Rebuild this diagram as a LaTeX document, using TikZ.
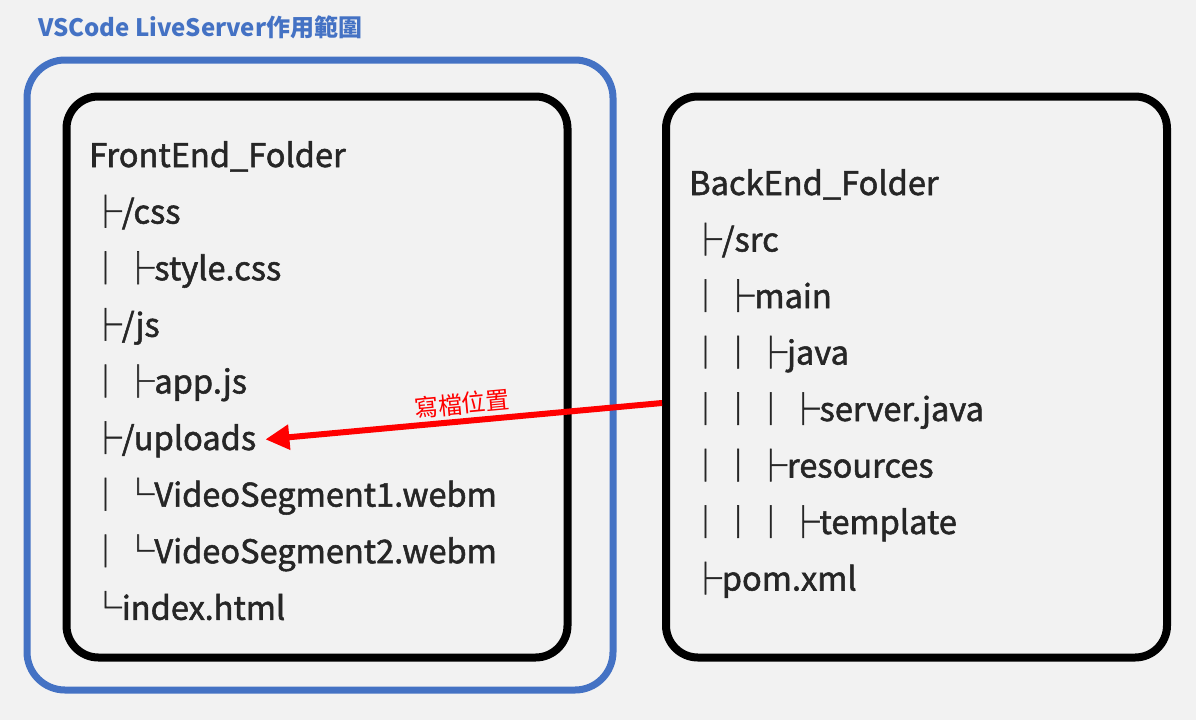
\documentclass[tikz,border=0pt]{standalone}
\usepackage{fontspec}
\setmainfont{Noto Sans CJK TC}
\newfontfamily\treefont{Noto Sans CJK TC}[FakeBold=1.6]
\usetikzlibrary{arrows.meta}
\definecolor{bgc}{HTML}{F2F2F2}
\definecolor{scopeblue}{HTML}{4472C4}
\definecolor{txtc}{HTML}{262626}
\begin{document}
\begin{tikzpicture}[x=1pt,y=-1pt,
  scopebox/.style={draw=scopeblue,line width=7pt,rounded corners=38pt,minimum width=586pt,minimum height=630pt},
  folderbox/.style={draw=black,line width=8pt,rounded corners=32pt,minimum width=501pt,minimum height=561pt},
  treeline/.style={anchor=base west,inner sep=0pt,text=txtc,font=\treefont\fontsize{32.6}{38}\selectfont},
  writearrow/.style={draw=red,line width=6pt,-{Triangle[length=24pt,width=24pt]}}]
\fill[bgc] (0,0) rectangle (1196,720);
\useasboundingbox (0,0) rectangle (1196,720);
\node[anchor=base west,inner sep=0pt,text=scopeblue,font=\fontsize{24}{28}\selectfont\bfseries] (title) at (38,36) {VSCode LiveServer作用範圍};
\node[scopebox] (scope) at (320,375) {};
\node[folderbox] (front) at (317,377) {};
\node[folderbox] (back) at (916.5,377) {};
\foreach \txt [count=\i] in {FrontEnd\_Folder,├/css,│├style.css,├/js,│├app.js,├/uploads,│└VideoSegment1.webm,│└VideoSegment2.webm,└index.html}
  \node[treeline] (f\i) at (89,{167+56.6*(\i-1)}) {\txt};
\foreach \txt [count=\i] in {BackEnd\_Folder,├/src,│├main,││├java,│││├server.java,││├resources,│││├template,├pom.xml}
  \node[treeline] (b\i) at (689,{195+56.5*(\i-1)}) {\txt};
\draw[writearrow] ([yshift=-26pt]back.west) -- ([xshift=9pt]f6.east)
  node[midway,above,sloped,text=red,font=\fontsize{24}{28}\selectfont] {寫檔位置};
\end{tikzpicture}
\end{document}
